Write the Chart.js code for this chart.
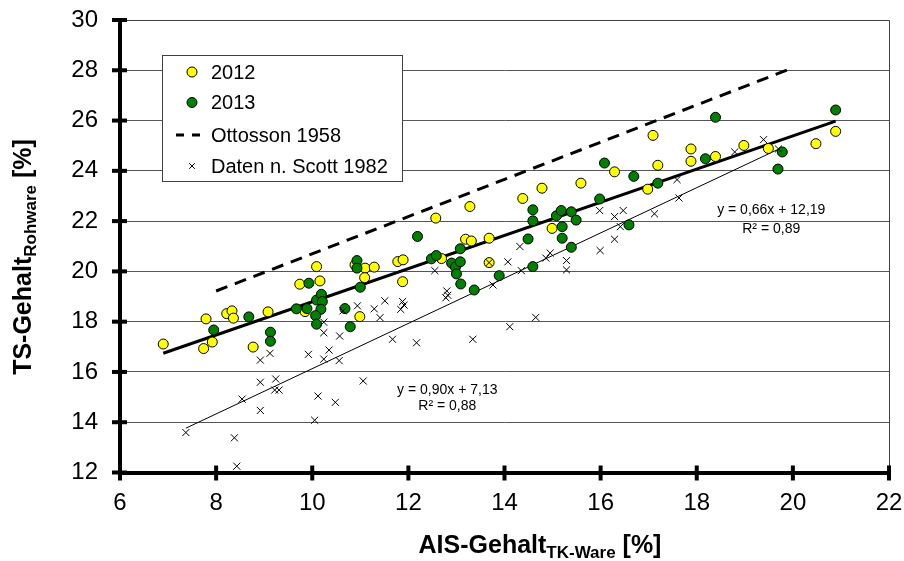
<!DOCTYPE html>
<html><head><meta charset="utf-8">
<script src="https://cdn.jsdelivr.net/npm/chart.js@4.4.1/dist/chart.umd.min.js"></script>
<style>html,body{margin:0;padding:0;background:#fff;}</style>
</head><body>
<canvas id="c" width="904" height="561"></canvas>
<script>
// ---- data ----
const x2012 = [6.90,7.79,7.74,7.92,8.22,8.33,8.36,8.77,9.08,9.74,10.09,10.16,9.85,10.89,11.10,11.29,11.09,11.78,11.89,11.88,10.99,12.57,13.28,14.38,14.78,15.59,16.29,13.19,13.31,13.68,12.69,13.68,14.99,17.09,17.88,17.88,18.39,18.98,19.49,17.19,16.98,20.89,20.48];
const y2012 = [17.11,18.11,16.93,17.19,18.32,18.43,18.14,16.99,18.39,19.49,20.19,19.62,18.40,20.26,20.13,20.17,19.75,20.39,20.46,19.59,18.20,22.12,22.58,22.90,23.31,23.51,23.96,21.28,21.21,21.32,20.51,20.35,21.71,25.41,24.87,24.38,24.57,25.01,24.89,24.22,23.27,25.57,25.08];
const x2013 = [7.95,8.68,9.13,9.13,9.67,9.93,9.89,10.09,10.19,10.21,10.18,10.07,10.09,10.93,10.93,11.00,10.68,10.79,12.19,12.48,12.58,16.08,15.98,14.59,14.59,15.08,15.18,15.39,15.49,15.20,15.20,15.39,14.49,13.08,12.90,12.98,13.08,13.00,13.09,13.37,13.89,14.59,16.69,17.19,18.18,19.78,19.69,16.59,18.39,20.89];
const y2013 = [17.67,18.19,17.58,17.22,18.51,19.53,18.52,18.86,19.09,18.80,18.49,18.24,17.90,20.43,20.13,19.37,18.52,17.80,21.39,20.50,20.63,24.31,22.88,22.45,22.01,22.21,22.42,22.37,22.04,21.78,21.32,20.96,21.29,20.90,20.33,20.17,20.38,19.90,19.50,19.26,19.83,20.19,23.78,23.51,24.48,24.75,24.07,21.85,26.13,26.42];
const xScott = [9.12,8.92,8.92,9.24,9.22,9.31,8.54,8.92,7.37,8.38,8.43,12.55,10.94,10.64,11.29,11.51,11.41,11.84,11.91,11.88,10.24,10.24,10.57,10.35,9.92,10.24,10.56,11.67,12.17,11.06,10.12,10.48,10.05,12.80,12.82,12.78,14.07,14.35,13.76,14.32,14.86,14.95,15.29,15.29,15.98,16.29,16.29,15.99,14.11,14.65,13.34,17.59,17.63,17.12,18.79,19.39,19.70,16.47,16.41,13.68];
const yScott = [16.74,16.47,15.59,15.72,15.28,15.28,14.92,14.47,13.59,13.38,12.25,20.03,18.63,18.43,18.51,18.83,18.16,18.49,18.66,18.80,17.98,17.56,17.43,16.87,16.70,16.51,16.45,17.30,17.16,15.64,15.04,14.79,14.08,19.22,19.05,18.95,20.38,20.03,19.46,20.99,20.53,20.73,20.43,20.06,22.42,22.18,21.28,20.83,17.80,18.17,17.30,23.65,22.92,22.29,24.75,25.24,24.87,22.42,21.78,20.35];
// regression / reference lines: [slope, intercept]
const fitOwn = [0.66, 12.19];
const fitScott = [0.90, 7.13];
const ottosson = [0.74, 13.3];
const ottossonRange = [8, 20];
const fitOwnText = ['y = 0,66x + 12,19', 'R² = 0,89'];
const fitScottText = ['y = 0,90x + 7,13', 'R² = 0,88'];
const fitOwnTextPos = [19.55, 22.45, 21.69];   // x, y line1, y line2 (data units)
const fitScottTextPos = [12.81, 15.28, 14.65];
const xTicks = [6, 8, 10, 12, 14, 16, 18, 20, 22];
const yTicks = [12, 14, 16, 18, 20, 22, 24, 26, 28, 30];
const legendLabels = ['2012', '2013', 'Ottosson 1958', 'Daten n. Scott 1982'];

const FONT = "'Liberation Sans', Arial, Helvetica, sans-serif";
const pts = (xs, ys) => xs.map((x, i) => ({x, y: ys[i]}));
const lineSeg = (f, x0, x1) => [{x: x0, y: f[0]*x0 + f[1]}, {x: x1, y: f[0]*x1 + f[1]}];
const ownX = x2012.concat(x2013);
const ownLine = lineSeg(fitOwn, Math.min(...ownX), Math.max(...ownX));
const scottLine = lineSeg(fitScott, Math.min(...xScott), Math.max(...xScott));
const ottLine = lineSeg(ottosson, ottossonRange[0], ottossonRange[1]);

function drawParts(ctx, parts, cx, cy) {
  let total = 0;
  parts.forEach(p => { ctx.font = p.font; p.w = ctx.measureText(p.t).width; total += p.w; });
  let x = cx - total / 2;
  ctx.textAlign = 'left'; ctx.textBaseline = 'alphabetic';
  parts.forEach(p => { ctx.font = p.font; ctx.fillText(p.t, x, cy + p.dy); x += p.w; });
}

const deco = {
  id: 'deco',
  afterDraw(chart) {
    const ctx = chart.ctx, xs = chart.scales.x, ys = chart.scales.y, ca = chart.chartArea;
    ctx.save();
    // top and right frame
    ctx.strokeStyle = '#404040'; ctx.lineWidth = 1;
    ctx.beginPath();
    ctx.moveTo(ca.left, Math.round(ca.top) + 0.5); ctx.lineTo(Math.round(ca.right) + 0.5, Math.round(ca.top) + 0.5);
    ctx.lineTo(Math.round(ca.right) + 0.5, ca.bottom);
    ctx.stroke();
    // crossing tick marks
    ctx.strokeStyle = '#000'; ctx.lineWidth = 4;
    xTicks.forEach(v => { const p = xs.getPixelForValue(v); ctx.beginPath(); ctx.moveTo(p, ca.bottom - 7); ctx.lineTo(p, ca.bottom + 8); ctx.stroke(); });
    yTicks.forEach(v => { const p = ys.getPixelForValue(v); ctx.beginPath(); ctx.moveTo(ca.left - 8, p); ctx.lineTo(ca.left + 7, p); ctx.stroke(); });
    // fit labels
    ctx.fillStyle = '#000'; ctx.font = '14px ' + FONT; ctx.textAlign = 'center'; ctx.textBaseline = 'middle';
    ctx.fillText(fitOwnText[0], xs.getPixelForValue(fitOwnTextPos[0]), ys.getPixelForValue(fitOwnTextPos[1]));
    ctx.fillText(fitOwnText[1], xs.getPixelForValue(fitOwnTextPos[0]), ys.getPixelForValue(fitOwnTextPos[2]));
    ctx.fillText(fitScottText[0], xs.getPixelForValue(fitScottTextPos[0]), ys.getPixelForValue(fitScottTextPos[1]));
    ctx.fillText(fitScottText[1], xs.getPixelForValue(fitScottTextPos[0]), ys.getPixelForValue(fitScottTextPos[2]));
    // legend
    const lx = 162.5, ly = 55.5, lw = 240, lh = 126;
    ctx.fillStyle = '#fff'; ctx.fillRect(lx, ly, lw, lh);
    ctx.strokeStyle = '#404040'; ctx.lineWidth = 1; ctx.strokeRect(lx, ly, lw, lh);
    const rows = [72, 102.5, 135, 166];
    const ds = chart.data.datasets;
    const mx = 192;
    ctx.fillStyle = ds[0].backgroundColor; ctx.strokeStyle = '#000'; ctx.lineWidth = 1;
    Chart.helpers.drawPoint(ctx, {pointStyle: 'circle', radius: 5, borderWidth: 1}, mx, rows[0]);
    ctx.fillStyle = ds[1].backgroundColor;
    Chart.helpers.drawPoint(ctx, {pointStyle: 'circle', radius: 5, borderWidth: 1}, mx, rows[1]);
    ctx.lineWidth = 3; ctx.setLineDash([8, 8]);
    ctx.beginPath(); ctx.moveTo(176, rows[2]); ctx.lineTo(200, rows[2]); ctx.stroke();
    ctx.setLineDash([]); ctx.lineWidth = 1;
    Chart.helpers.drawPoint(ctx, {pointStyle: 'crossRot', radius: 4, borderWidth: 1}, mx, rows[3]);
    ctx.fillStyle = '#000'; ctx.font = '20px ' + FONT; ctx.textAlign = 'left'; ctx.textBaseline = 'middle';
    legendLabels.forEach((t, i) => ctx.fillText(t, 211, rows[i] + 1));
    // axis titles
    ctx.fillStyle = '#000';
    drawParts(ctx, [
      {t: 'AIS-Gehalt', font: 'bold 25px ' + FONT, dy: 0},
      {t: 'TK-Ware', font: 'bold 17px ' + FONT, dy: 5},
      {t: ' [%]', font: 'bold 25px ' + FONT, dy: 0}
    ], 540, 553);
    ctx.translate(31, 257);
    ctx.rotate(-Math.PI / 2);
    drawParts(ctx, [
      {t: 'TS-Gehalt', font: 'bold 25px ' + FONT, dy: 0},
      {t: 'Rohware', font: 'bold 17px ' + FONT, dy: 5},
      {t: ' [%]', font: 'bold 25px ' + FONT, dy: 0}
    ], 0, 0);
    ctx.restore();
  }
};

new Chart(document.getElementById('c'), {
  type: 'scatter',
  data: {
    datasets: [
      {label: legendLabels[0], data: pts(x2012, y2012), backgroundColor: '#FFFF00', borderColor: '#000', borderWidth: 1, pointRadius: 5, pointHoverRadius: 5, order: 2},
      {label: legendLabels[1], data: pts(x2013, y2013), backgroundColor: '#007F00', borderColor: '#000', borderWidth: 1, pointRadius: 5, pointHoverRadius: 5, order: 1},
      {label: legendLabels[3], data: pts(xScott, yScott), pointStyle: 'crossRot', borderColor: '#000', backgroundColor: '#000', borderWidth: 1, pointRadius: 5, order: 0},
      {label: 'fit2012-13', type: 'line', data: ownLine, borderColor: '#000', borderWidth: 3, pointRadius: 0, fill: false, order: 3},
      {label: 'fitScott', type: 'line', data: scottLine, borderColor: '#000', borderWidth: 1, pointRadius: 0, fill: false, order: 3},
      {label: legendLabels[2], type: 'line', data: ottLine, borderColor: '#000', borderWidth: 3, borderDash: [12, 8], pointRadius: 0, fill: false, order: 3}
    ]
  },
  options: {
    responsive: false,
    animation: false,
    devicePixelRatio: 1,
    layout: {padding: {top: 20, right: 15, left: 0, bottom: 0}},
    plugins: {legend: {display: false}, tooltip: {enabled: false}},
    scales: {
      x: {
        type: 'linear', min: 6, max: 22,
        afterBuildTicks: s => { s.ticks = xTicks.map(v => ({value: v})); },
        afterFit: s => { s.height = 88.5; s.paddingLeft = 0; s.paddingRight = 0; },
        ticks: {font: {family: FONT, size: 24}, color: '#000', padding: 16, maxRotation: 0},
        grid: {display: false, drawTicks: false},
        border: {display: true, color: '#000', width: 4}
      },
      y: {
        type: 'linear', min: 12, max: 30,
        afterBuildTicks: s => { s.ticks = yTicks.map(v => ({value: v})); },
        afterFit: s => { s.width = 120; s.paddingTop = 0; s.paddingBottom = 0; },
        ticks: {font: {family: FONT, size: 24}, color: '#000', padding: 22},
        grid: {display: true, color: '#555555', lineWidth: 1, drawTicks: false},
        border: {display: true, color: '#000', width: 4}
      }
    }
  },
  plugins: [deco]
});
</script>
</body></html>
